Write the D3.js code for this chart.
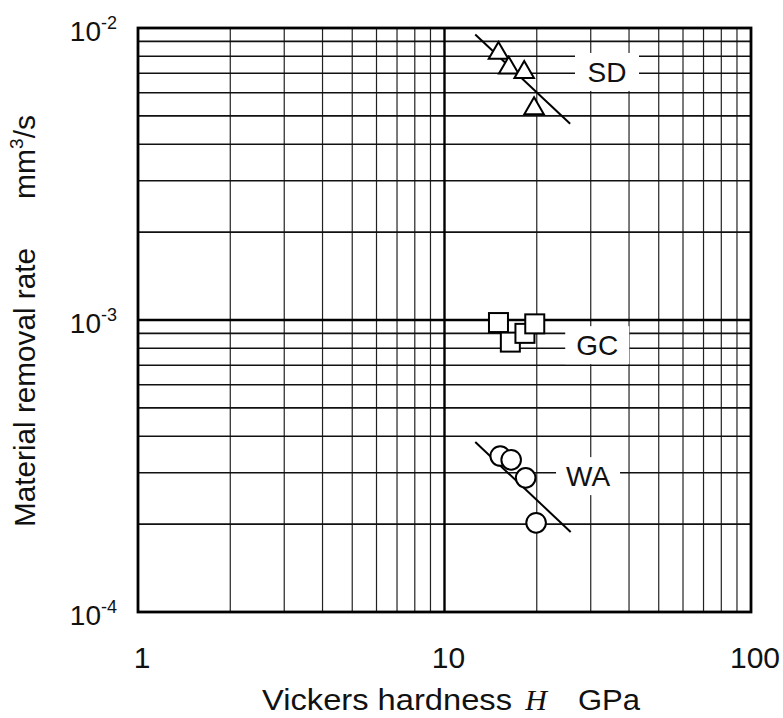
<!DOCTYPE html>
<html>
<head>
<meta charset="utf-8">
<script src="https://cdn.jsdelivr.net/npm/d3@7"></script>
<style>
  body { margin: 0; background: #fff; }
  text { font-family: "Liberation Sans", Arial, sans-serif; fill: #111; }
</style>
</head>
<body>
<div id="chart"></div>
<script>
// data
var sdH = [15.0, 16.2, 18.2, 19.6];
var sdRate = [8.2e-3, 7.3e-3, 7.05e-3, 5.3e-3];
var gcH = [15.0, 16.4, 18.3, 19.7];
var gcRate = [9.8e-4, 8.4e-4, 9.0e-4, 9.7e-4];
var waH = [15.2, 16.5, 18.4, 19.9];
var waRate = [3.42e-4, 3.32e-4, 2.88e-4, 2.02e-4];
var sdFitH = [12.6, 25.7], sdFitRate = [9.5e-3, 4.7e-3];
var waFitH = [12.6, 25.8], waFitRate = [3.82e-4, 1.88e-4];
var labelText = ["SD", "GC", "WA"];
var labelH = [33.9, 31.5, 29.4];
var labelRate = [7.07e-3, 8.2e-4, 2.92e-4];
var xTicks = [1, 10, 100];
var yTicks = [1e-4, 1e-3, 1e-2];
var yExp = ["-4", "-3", "-2"];

var width = 783, height = 718;
var margin = { top: 28, right: 32, bottom: 106, left: 138 };
var w = width - margin.left - margin.right,
    h = height - margin.top - margin.bottom;

var svg = d3.select("#chart").append("svg")
    .attr("width", width)
    .attr("height", height);
var g = svg.append("g")
    .attr("transform", "translate(" + margin.left + "," + margin.top + ")");

var x = d3.scaleLog().domain([1, 100]).range([0, w]);
var y = d3.scaleLog().domain([1e-4, 1e-2]).range([h, 0]);

// minor grid
var xMinor = [], yMinor = [];
[1, 10].forEach(function (d) { for (var i = 2; i <= 9; i++) xMinor.push(d * i); });
[1e-4, 1e-3].forEach(function (d) { for (var i = 2; i <= 9; i++) yMinor.push(d * i); });

g.selectAll(".vgrid").data(xMinor).enter().append("line")
    .attr("x1", d => x(d)).attr("x2", d => x(d))
    .attr("y1", 0).attr("y2", h)
    .attr("stroke", "#222").attr("stroke-width", 1.2);
g.selectAll(".hgrid").data(yMinor).enter().append("line")
    .attr("x1", 0).attr("x2", w)
    .attr("y1", d => y(d)).attr("y2", d => y(d))
    .attr("stroke", "#111").attr("stroke-width", 1.6);

// major grid
g.append("line").attr("x1", x(10)).attr("x2", x(10)).attr("y1", 0).attr("y2", h)
    .attr("stroke", "#000").attr("stroke-width", 2.4);
g.append("line").attr("x1", 0).attr("x2", w).attr("y1", y(1e-3)).attr("y2", y(1e-3))
    .attr("stroke", "#000").attr("stroke-width", 2.4);

// label boxes that break the grid
labelText.forEach(function (t, i) {
    var cx = x(labelH[i]), cy = y(labelRate[i]);
    g.append("rect").attr("x", cx - 32).attr("y", cy - 19).attr("width", 64).attr("height", 38)
        .attr("fill", "#fff");
    g.append("text").attr("x", cx).attr("y", cy + 10).attr("text-anchor", "middle")
        .style("font-size", "28px").text(t);
});

// plot frame
g.append("rect").attr("x", 0).attr("y", 0).attr("width", w).attr("height", h)
    .attr("fill", "none").attr("stroke", "#000").attr("stroke-width", 2.8);

// fit lines
var line = d3.line().x(d => x(d[0])).y(d => y(d[1]));
g.append("path").datum(d3.zip(sdFitH, sdFitRate)).attr("d", line)
    .attr("stroke", "#000").attr("stroke-width", 2).attr("fill", "none");
g.append("path").datum(d3.zip(waFitH, waFitRate)).attr("d", line)
    .attr("stroke", "#000").attr("stroke-width", 2).attr("fill", "none");

// markers
var tri = d3.symbol().type(d3.symbolTriangle).size(165);
g.selectAll(".sd").data(d3.zip(sdH, sdRate)).enter().append("path")
    .attr("d", tri)
    .attr("transform", d => "translate(" + x(d[0]) + "," + y(d[1]) + ")")
    .attr("fill", "#fff").attr("stroke", "#000").attr("stroke-width", 2);
g.selectAll(".gc").data(d3.zip(gcH, gcRate)).enter().append("rect")
    .attr("x", d => x(d[0]) - 9.5).attr("y", d => y(d[1]) - 9.5)
    .attr("width", 19).attr("height", 19)
    .attr("fill", "#fff").attr("stroke", "#000").attr("stroke-width", 2);
g.selectAll(".wa").data(d3.zip(waH, waRate)).enter().append("circle")
    .attr("cx", d => x(d[0])).attr("cy", d => y(d[1])).attr("r", 9.8)
    .attr("fill", "#fff").attr("stroke", "#000").attr("stroke-width", 2);

// axis tick labels
g.selectAll(".xt").data(xTicks).enter().append("text")
    .attr("x", d => x(d) + 4).attr("y", h + 56)
    .attr("text-anchor", "middle").style("font-size", "30px")
    .text(d => d);
var yt = g.selectAll(".yt").data(yTicks).enter().append("text")
    .attr("x", -21).attr("y", d => y(d) + 13)
    .attr("text-anchor", "end").style("font-size", "28px");
yt.append("tspan").text("10");
yt.append("tspan").attr("dy", -12).style("font-size", "18px").text((d, i) => yExp[i]);

// axis titles
var fs = "30px";
svg.append("text").attr("x", 262).attr("y", 710)
    .attr("textLength", 250).attr("lengthAdjust", "spacingAndGlyphs")
    .style("font-size", fs).text("Vickers hardness");
svg.append("text").attr("x", 536).attr("y", 710).attr("text-anchor", "middle")
    .style("font-size", fs).style("font-family", "'Liberation Serif', serif")
    .style("font-style", "italic").text("H");
svg.append("text").attr("x", 578).attr("y", 710)
    .attr("textLength", 62).attr("lengthAdjust", "spacingAndGlyphs")
    .style("font-size", fs).text("GPa");

svg.append("text")
    .attr("transform", "translate(35,527) rotate(-90)")
    .attr("textLength", 279).attr("lengthAdjust", "spacingAndGlyphs")
    .style("font-size", fs)
    .text("Material removal rate");
var mm = svg.append("text")
    .attr("transform", "translate(35,115) rotate(-90)")
    .attr("text-anchor", "end").style("font-size", fs);
mm.append("tspan").text("mm");
mm.append("tspan").attr("dy", -12).style("font-size", "19px").text("3");
mm.append("tspan").attr("dy", 12).text("/s");
</script>
</body>
</html>
